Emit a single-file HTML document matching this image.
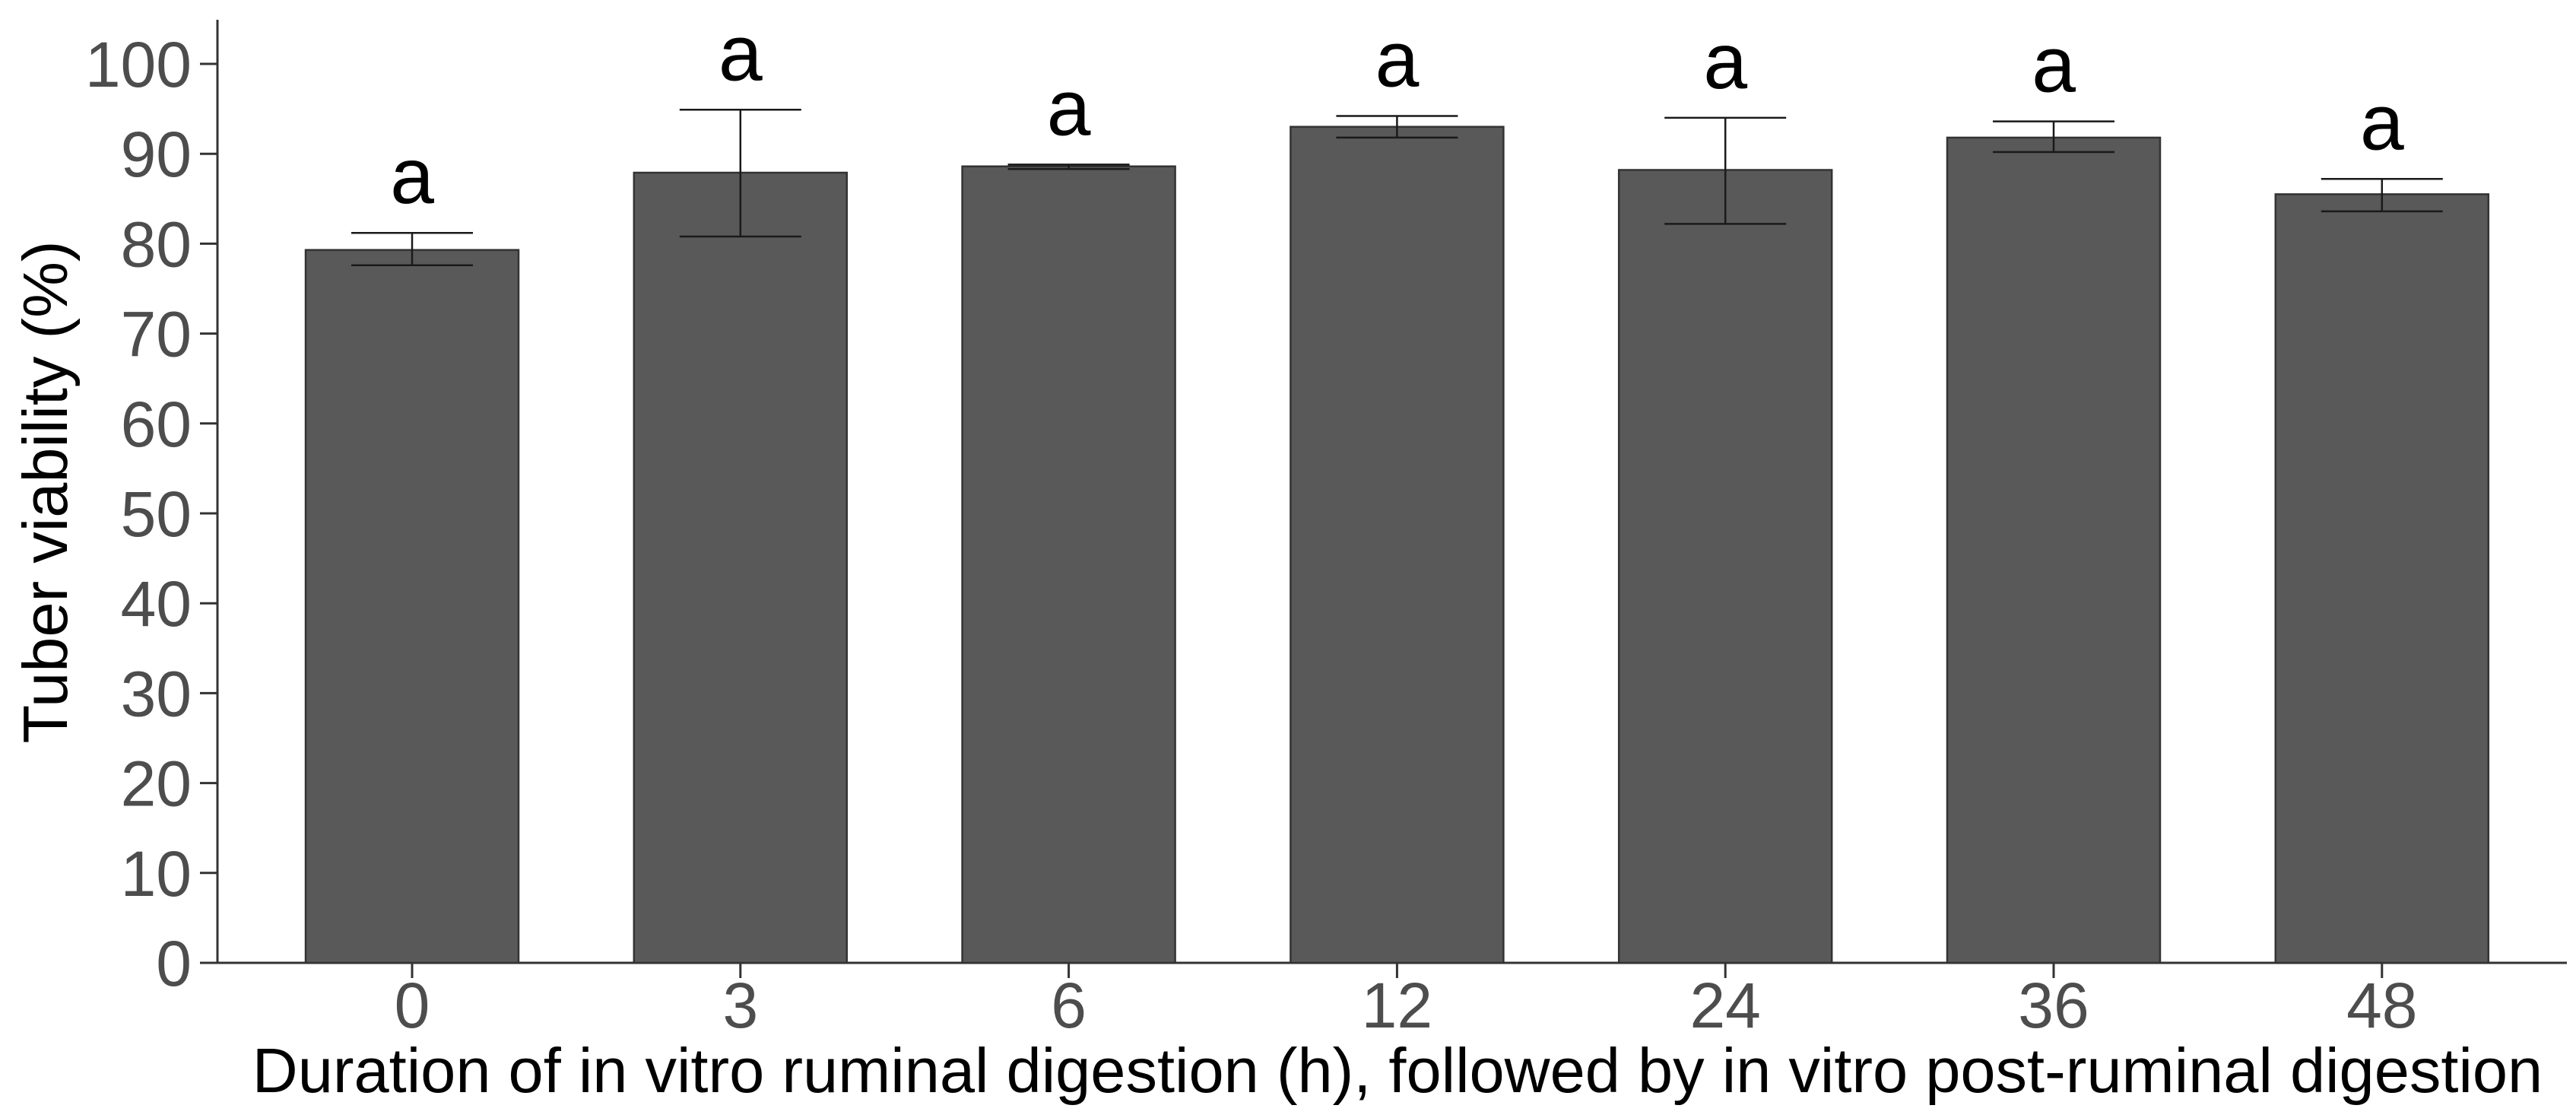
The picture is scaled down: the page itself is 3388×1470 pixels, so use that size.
<!DOCTYPE html>
<html><head><meta charset="utf-8"><style>
html,body{margin:0;padding:0;background:#fff}
svg{display:block}
</style></head><body>
<svg id="chart" width="3388" height="1470" viewBox="0 0 3388 1470" xmlns="http://www.w3.org/2000/svg" font-family="'Liberation Sans', Arial, sans-serif">
<g id="gy"></g>
<g id="gx"></g>
<g id="bars"></g>
<text transform="translate(88,647) rotate(-90)" text-anchor="middle" font-size="83" fill="#000">Tuber viability (%)</text>
<text x="1838" y="1436" text-anchor="middle" font-size="83" fill="#000">Duration of in vitro ruminal digestion (h), followed by in vitro post-ruminal digestion</text>
</svg>
<script>
const categories = ["0","3","6","12","24","36","48"];
const means = [79.3, 87.9, 88.6, 93.0, 88.2, 91.8, 85.5];
const errUpper = [81.2, 94.9, 88.8, 94.2, 94.0, 93.6, 87.2];
const errLower = [77.6, 80.8, 88.3, 91.8, 82.2, 90.2, 83.6];
const letters = ["a","a","a","a","a","a","a"];
const yTicks = [0,10,20,30,40,50,60,70,80,90,100];

const NS = "http://www.w3.org/2000/svg";
const y0 = 1266, pxPerUnit = 11.82;
const yScale = v => y0 - v * pxPerUnit;
const x0 = 542, step = 431.8;
const xScale = i => x0 + i * step;
const barW = 280, capW = 160;
function mk(tag, attrs, parent, txt){
  const e = document.createElementNS(NS, tag);
  for (const k in attrs) e.setAttribute(k, attrs[k]);
  if (txt !== undefined) e.textContent = txt;
  parent.appendChild(e);
  return e;
}
const gy = document.getElementById('gy');
const gx = document.getElementById('gx');
const gb = document.getElementById('bars');
let l = mk('line', {x1:286,y1:26,x2:286,y2:y0,stroke:'#333','stroke-width':3}, gy);


l = mk('line', {x1:286,y1:y0,x2:3376,y2:y0,stroke:'#333','stroke-width':3}, gx);


yTicks.forEach(t => {
  const y = yScale(t);
  const tk = mk('line', {x1:263,y1:y,x2:286,y2:y,stroke:'#333','stroke-width':3}, gy);
  
  
  const tx = mk('text', {x:252,y:y+30,'text-anchor':'end','font-size':84,fill:'#4d4d4d'}, gy, String(t));
  
  
});
categories.forEach((c, i) => {
  const cx = xScale(i);
  const tk = mk('line', {x1:cx,y1:y0,x2:cx,y2:y0+20,stroke:'#333','stroke-width':3}, gx);
  
  
  const tx = mk('text', {x:cx,y:1351,'text-anchor':'middle','font-size':84,fill:'#4d4d4d'}, gx, c);
  
  
  const top = yScale(means[i]);
  const r = mk('rect', {x:cx-barW/2,y:top,width:barW,height:y0-top,fill:'#595959',stroke:'#333','stroke-width':2.5}, gb);
  
  
  const yu = yScale(errUpper[i]), yl = yScale(errLower[i]);
  const eg = mk('g', {stroke:'#1a1a1a','stroke-width':2.5}, gb);
  
  
  mk('line', {x1:cx,y1:yu,x2:cx,y2:yl}, eg);
  mk('line', {x1:cx-capW/2,y1:yu,x2:cx+capW/2,y2:yu}, eg);
  mk('line', {x1:cx-capW/2,y1:yl,x2:cx+capW/2,y2:yl}, eg);
  const lt = mk('text', {x:cx,y:yu-39,'text-anchor':'middle','font-size':104,fill:'#000'}, gb, letters[i]);
  
  
});
</script>
</body></html>
